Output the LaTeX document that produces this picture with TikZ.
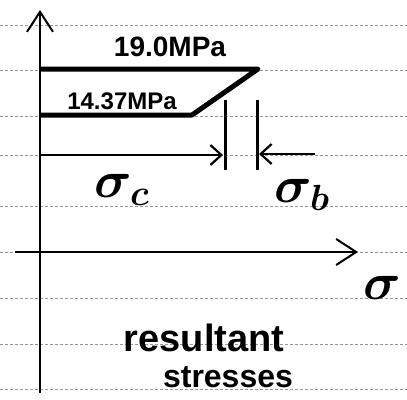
\documentclass[tikz,border=0pt]{standalone}
\usepackage{fix-cm}
\usepackage{bm}
\usepackage{fontspec}
\setmainfont{Liberation Sans}
\usepackage{tikz}
\usetikzlibrary{arrows.meta,positioning}
\definecolor{ruling}{RGB}{150,150,150}

\begin{document}
\begin{tikzpicture}[
        x=1pt, y=-1pt,
        rule/.style={ruling, line width=0.6pt, dash pattern=on 3pt off 2pt},
        axis/.style={line width=2pt, -{Straight Barb[length=20pt, width=26pt, line width=2pt]}},
        profile/.style={line width=5pt, line join=round},
        bar/.style={line width=3pt},
        arr/.style={line width=2.2pt, -{Straight Barb[length=11pt, width=20pt, line width=2.2pt]}},
        lbl/.style={inner sep=0pt, font=\bfseries\fontsize{28}{28}\selectfont},
        greek/.style={inner sep=0pt, font=\fontsize{52}{52}\selectfont}
      ]
        \useasboundingbox (0,0) rectangle (407,399);
        % paper ruling
        \foreach \y in {25,70,116,155,206,252,298,344,389}
          \draw[rule] (0,\y) -- (407,\y);
        % axes
        \coordinate (ytop) at (40,10);
        \coordinate (ybot) at (40,393);
        \coordinate (xleft) at (15,252);
        \coordinate (xright) at (358,252);
        \draw[axis] (ybot) -- (ytop);
        \draw[axis] (xleft) -- (xright);
        % resultant stress profile
        \coordinate (top0) at (40,69);
        \coordinate (top1) at (258,69);
        \coordinate (bot1) at (192,115);
        \coordinate (bot0) at (40,115);
        \draw[profile] (top0) -- (top1) -- (bot1) -- (bot0);
        \node[lbl, anchor=base] (sigtop) at (170,56) {19.0MPa};
        \node[lbl, anchor=base, font=\bfseries\fontsize{24}{24}\selectfont] (sigbot) at (122,109) {14.37MPa};
        % sigma_c and sigma_b
        \coordinate (ca) at (225,100);
        \coordinate (cb) at (225,170);
        \coordinate (ba) at (257,100);
        \coordinate (bb) at (257,170);
        \draw[bar] (ca) -- (cb);
        \draw[bar] (ba) -- (bb);
        \coordinate (cstart) at (40,155);
        \coordinate (cend) at (223,155);
        \coordinate (bstart) at (315,154);
        \coordinate (bend) at (259,154);
        \draw[arr] (cstart) -- (cend);
        \draw[arr] (bstart) -- (bend);
        \node[greek] (sigc) at (122,190) {$\bm{\sigma}_{\bm{c}}$};
        \node[greek] (sigb) at (302,195) {$\bm{\sigma}_{\bm{b}}$};
        \node[greek] (sig) at (382,288) {$\bm{\sigma}$};
        % caption
        \node[lbl, font=\bfseries\fontsize{38}{38}\selectfont] (res) at (204,338) {resultant};
        \node[lbl, font=\bfseries\fontsize{32}{32}\selectfont] (str) at (228,377) {stresses};
      \end{tikzpicture}
\end{document}
